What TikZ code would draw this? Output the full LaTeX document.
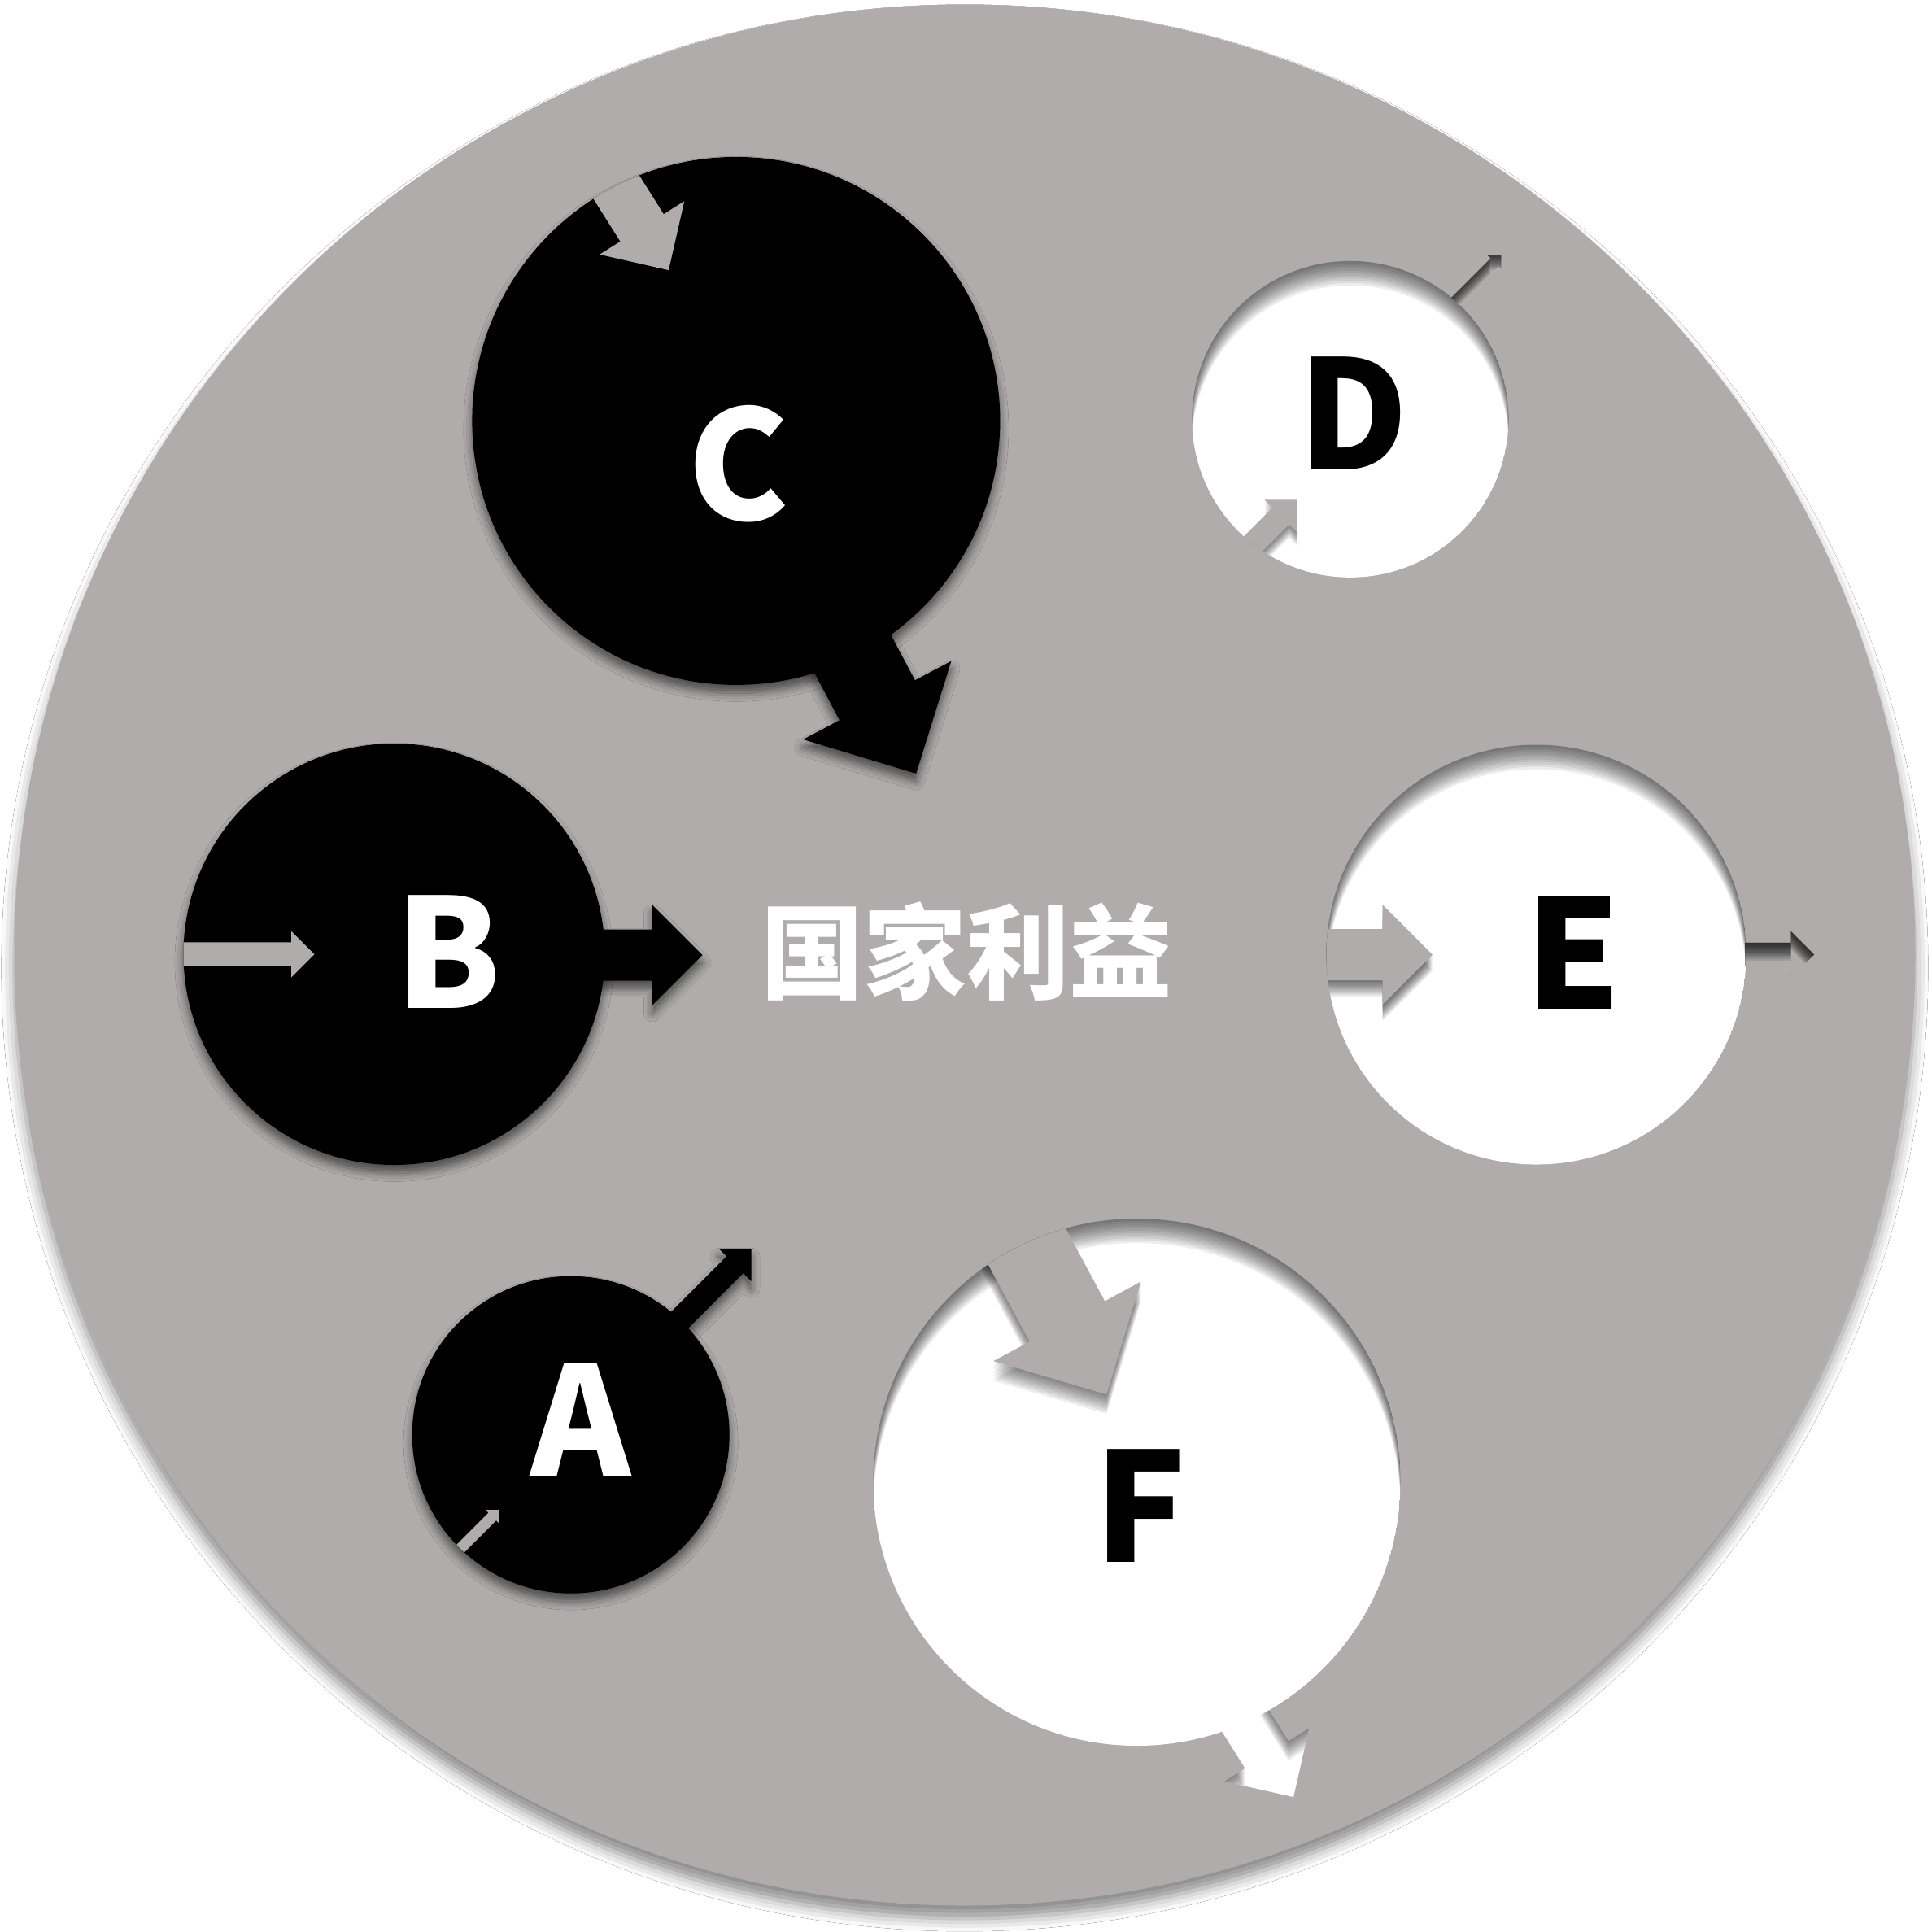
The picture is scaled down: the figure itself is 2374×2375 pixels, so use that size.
\documentclass[tikz,border=0pt]{standalone}
\usepackage{fontspec}
\newfontfamily\cjk{Noto Sans CJK SC}[BoldFont={Noto Sans CJK SC Black}]
\usetikzlibrary{shadows.blur}
\definecolor{plate}{RGB}{175,172,171}

%% block arrow: tail x, tail y, angle, length, shaft, head, head length
\newcommand{\arrowpath}[7]{%
  ([shift={(#1,#2)},rotate=#3]0,-#5) -- ([shift={(#1,#2)},rotate=#3]#4-#7,-#5) --
  ([shift={(#1,#2)},rotate=#3]#4-#7,-#6) -- ([shift={(#1,#2)},rotate=#3]#4,0) --
  ([shift={(#1,#2)},rotate=#3]#4-#7,#6) -- ([shift={(#1,#2)},rotate=#3]#4-#7,#5) --
  ([shift={(#1,#2)},rotate=#3]0,#5) -- cycle}
\newcommand{\arrowbig}[4]{\arrowpath{#1}{#2}{#3}{#4}{52.5}{103}{102}}
\newcommand{\arrowmid}[4]{\arrowpath{#1}{#2}{#3}{#4}{31.5}{61.5}{61.5}}
\newcommand{\arrowsmall}[4]{\arrowpath{#1}{#2}{#3}{#4}{14.6}{28.3}{28.3}}
\newcommand{\arrowtiny}[4]{\arrowpath{#1}{#2}{#3}{#4}{6.8}{11.5}{11.5}}
%% shade under the rim of a hole (used inside its clip)
\newcommand{\holeshade}[3]{%
  \foreach \d in {3,6,...,30}
    \fill[black,opacity=.07,even odd rule] (#1,#2) circle ({#3+40}) (#1,{#2-\d}) circle (#3);}

\begin{document}
\begin{tikzpicture}[x=0.01cm,y=0.01cm,
    lift/.style={blur shadow={shadow xshift=0pt,shadow yshift=-2.8pt,shadow blur radius=3pt,shadow opacity=55}},
    groove/.style={black,opacity=.1,even odd rule},
    letter/.style={font=\cjk\bfseries\fontsize{53}{53}\selectfont,inner sep=0pt}]
  \useasboundingbox (0,0) rectangle (2374,-2375);
  \fill[white] (0,0) rectangle (2374,-2375);
  %% plate
  \fill[plate,blur shadow={shadow xshift=0pt,shadow yshift=-4.5pt,shadow blur radius=4.5pt,shadow opacity=45}]
    (1186,-1174) circle (1168.5);

  %% black circles
  \fill[black,lift] (904.9,-517.4) circle (324.5);
  \fill[black,lift] (484.5,-1173) circle (259);
  \fill[black,lift] (701.7,-1763.7) circle (195);
  \fill[black,lift] \arrowbig{1029.6}{-768.6}{-62.1}{206.3};
  \fill[black,lift] \arrowmid{690}{-1174}{0}{173.5};
  \fill[black,lift] \arrowsmall{814.6}{-1643.7}{45}{154};
  %% gray arrows cut into them
  \begin{scope}
    \clip (904.9,-517.4) circle (324.5);
    \fill[plate] \arrowmid{736.7}{-196.7}{-57.8}{160};
  \end{scope}
  \begin{scope}
    \clip (484.5,-1173) circle (259);
    \fill[plate] \arrowsmall{200}{-1173}{0}{186.5};
  \end{scope}
  \begin{scope}
    \clip (701.7,-1763.7) circle (195);
    \fill[plate] \arrowtiny{552.6}{-1917}{45}{86};
  \end{scope}

  %% hole D
  \begin{scope}
    \clip (1659.8,-515.3) circle (194.5);
    \fill[white] (1659.8,-515.3) circle (194.5);
    \holeshade{1659.8}{-515.3}{194.5}
    \foreach \d in {2,4,...,16} \fill[black,opacity=.07] \arrowsmall{1527.4}{-681.6-\d}{45}{95};
    \fill[plate] \arrowsmall{1527.4}{-681.6}{45}{95};
  \end{scope}
  \begin{scope}
    \clip \arrowtiny{1788.8}{-370.8}{45}{80};
    \fill[plate] (1700,-250) rectangle (1900,-450);
    \foreach \d in {2,4,...,18} \fill[groove]
      (1700,-250) rectangle (1900,-450) \arrowtiny{1788.8}{-370.8-\d}{45}{80};
  \end{scope}
  %% hole E
  \begin{scope}
    \clip (1888.5,-1173.5) circle (258);
    \fill[white] (1888.5,-1173.5) circle (258);
    \holeshade{1888.5}{-1173.5}{258}
    \foreach \d in {2,4,...,20} \fill[black,opacity=.07] \arrowmid{1600}{-1173.5-\d}{0}{161};
    \fill[plate] \arrowmid{1600}{-1173.5}{0}{161};
  \end{scope}
  \begin{scope}
    \clip \arrowsmall{2145}{-1173.5}{0}{85};
    \fill[plate] (2100,-1100) rectangle (2300,-1250);
    \foreach \d in {2,4,...,22} \fill[groove]
      (2100,-1100) rectangle (2300,-1250) \arrowsmall{2145}{-1173.5-\d}{0}{85};
  \end{scope}
  %% hole F
  \begin{scope}
    \clip \arrowmid{1510.3}{-2082.4}{-57.8}{149.7};
    \fill[white] (1400,-2000) rectangle (1700,-2300);
    \foreach \d in {3,6,...,24} \fill[black,opacity=.07,even odd rule]
      (1400,-2000) rectangle (1700,-2300) \arrowmid{1510.3}{-2082.4-\d}{-57.8}{149.7};
  \end{scope}
  \begin{scope}
    \clip (1397.5,-1822) circle (324);
    \fill[white] (1397.5,-1822) circle (324);
    \holeshade{1397.5}{-1822}{324}
    \foreach \d in {3,6,...,24} \fill[black,opacity=.07] \arrowbig{1243.8}{-1497.8-\d}{-61.7}{245.7};
    \fill[plate] \arrowbig{1243.8}{-1497.8}{-61.7}{245.7};
  \end{scope}

  %% labels
  \node[letter,text=white] (C) at (907.6,-570) {C};
  \node[letter,text=white] (B) at (551.4,-1170.3) {B};
  \node[letter,text=white] (A) at (714.3,-1744.7) {A};
  \node[letter] (D) at (1663,-508.5) {D};
  \node[letter] (E) at (1934,-1170.8) {E};
  \node[letter] (F) at (1401.8,-1851.2) {F};
  \node[font=\cjk\bfseries\fontsize{36}{36}\selectfont,text=white,inner sep=0pt] (core) at (1188.3,-1169.3) {国家利益};
\end{tikzpicture}
\end{document}
